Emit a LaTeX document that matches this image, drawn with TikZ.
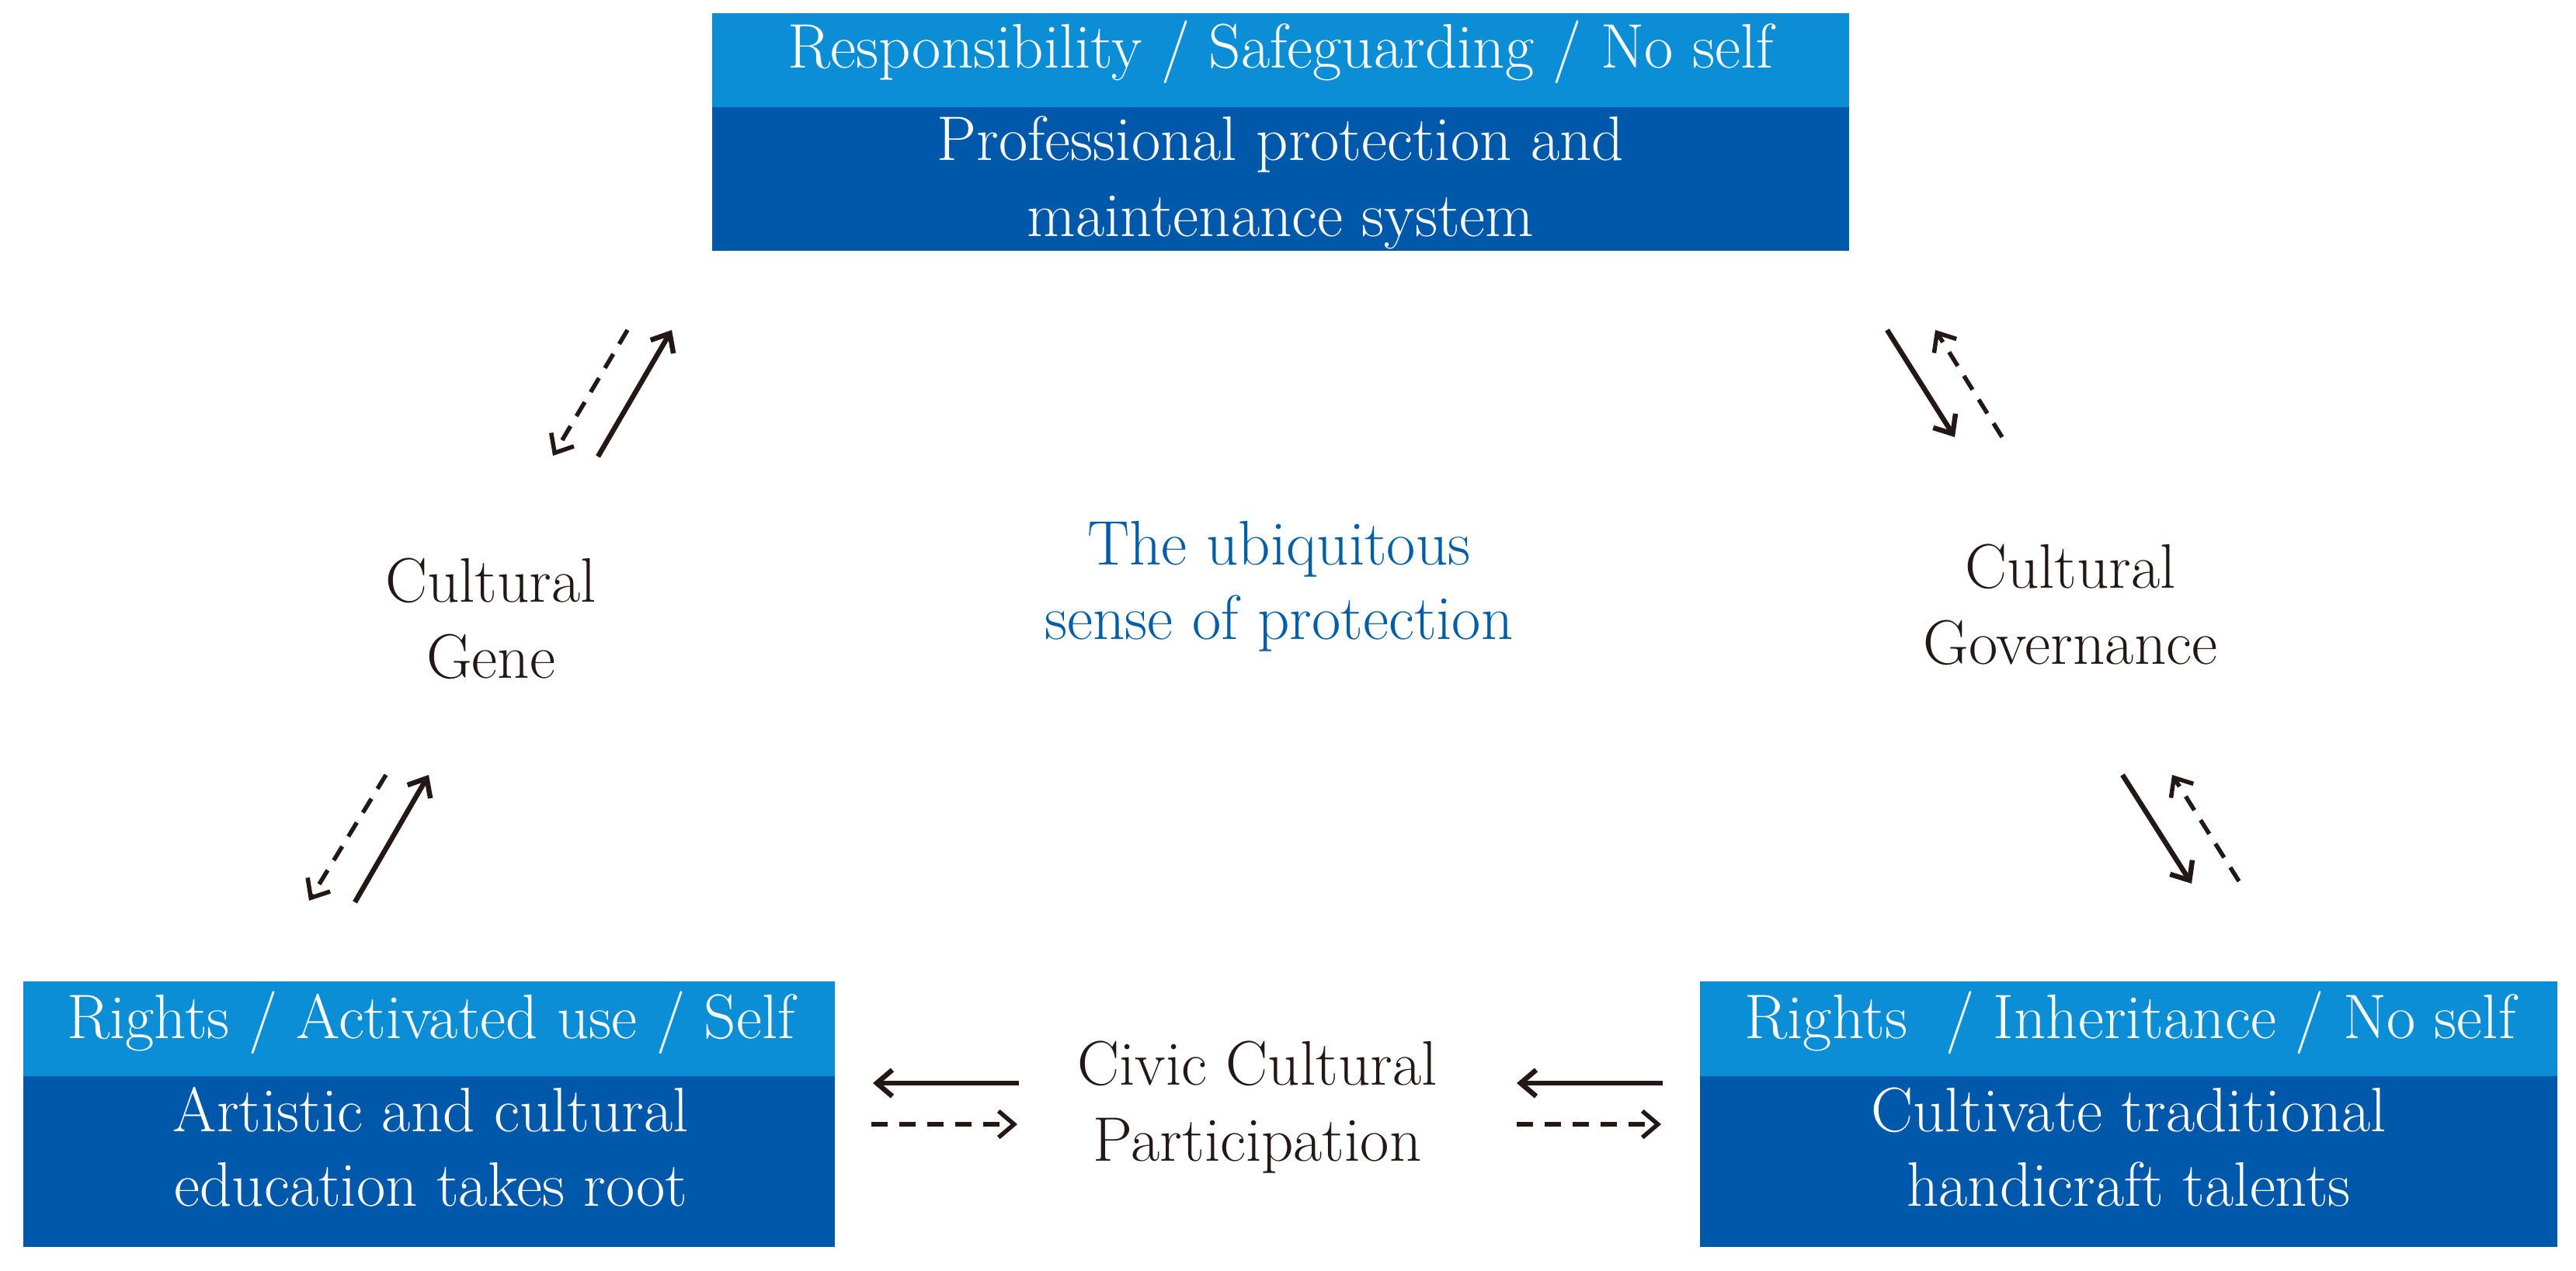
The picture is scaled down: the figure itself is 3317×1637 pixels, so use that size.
\documentclass[tikz,border=0pt]{standalone}
\usetikzlibrary{arrows.meta}
\definecolor{lightblue}{RGB}{12,142,214}
\definecolor{darkblue}{RGB}{0,88,170}
\definecolor{midblue}{RGB}{0,94,166}
\definecolor{ink}{RGB}{35,24,21}
\begin{document}
\begin{tikzpicture}[x=1pt,y=-1pt,
  band/.style={draw=none, inner sep=0pt, outer sep=0pt},
  lightband/.style={band, fill=lightblue},
  darkband/.style={band, fill=darkblue},
  txt/.style={inner sep=0pt, outer sep=0pt, anchor=base, font=\fontsize{81}{98}\selectfont},
  boxtext/.style={txt, text=white},
  plaintext/.style={txt, text=ink},
  bluetext/.style={txt, text=midblue},
  tipstyle/.style={-{Straight Barb[length=20pt,width=34pt]}},
  solidarrow/.style={draw=ink, line width=6.5pt, tipstyle},
  dasharrow/.style={draw=ink, line width=5.5pt, dash pattern=on 21pt off 15pt, tipstyle},
]
\useasboundingbox (0,0) rectangle (3317,1637);
\fill[white] (0,0) rectangle (3317,1637);

% top box
\node[lightband, minimum width=1464pt, minimum height=121pt] (topL) at (1649,77.5) {};
\node[darkband, minimum width=1464pt, minimum height=185pt] (topD) at (1649,230.5) {};
\node[boxtext] (t1) at (1649,88) {Responsibility / Safeguarding / No self};
\node[boxtext] (t2) at (1649,207) {Professional protection and};
\node[boxtext] (t3) at (1649,305) {maintenance system};

% bottom-left box
\node[lightband, minimum width=1045pt, minimum height=122pt] (blL) at (552.5,1325) {};
\node[darkband, minimum width=1045pt, minimum height=220pt] (blD) at (552.5,1496) {};
\node[boxtext] (bl1) at (555,1337) {Rights / Activated use / Self};
\node[boxtext] (bl2) at (555,1457) {Artistic and cultural};
\node[boxtext] (bl3) at (555,1553) {education takes root};

% bottom-right box
\node[lightband, minimum width=1104pt, minimum height=122pt] (brL) at (2741,1325) {};
\node[darkband, minimum width=1104pt, minimum height=220pt] (brD) at (2741,1496) {};
\node[boxtext] (br1) at (2743,1337) {Rights\ \ / Inheritance / No self};
\node[boxtext] (br2) at (2741,1457) {Cultivate traditional};
\node[boxtext] (br3) at (2741,1553) {handicraft talents};

% free labels
\node[plaintext] (gene1) at (632,775) {Cultural};
\node[plaintext] (gene2) at (632,873) {Gene};
\node[bluetext] (ub1) at (1647,727) {The ubiquitous};
\node[bluetext] (ub2) at (1647,823) {sense of protection};
\node[plaintext] (gov1) at (2666,757) {Cultural};
\node[plaintext] (gov2) at (2666,855) {Governance};
\node[plaintext] (civ1) at (1619,1397) {Civic Cultural};
\node[plaintext] (civ2) at (1619,1495) {Participation};

% arrow end points
\coordinate (tlDa) at (808,425);  \coordinate (tlDb) at (712,587);
\coordinate (tlSa) at (770,588);  \coordinate (tlSb) at (865,425);
\coordinate (blDa) at (497,998);  \coordinate (blDb) at (398,1160);
\coordinate (blSa) at (457,1162); \coordinate (blSb) at (552,998);
\coordinate (trSa) at (2430,425); \coordinate (trSb) at (2517,563);
\coordinate (trDa) at (2578,563); \coordinate (trDb) at (2492,425);
\coordinate (brSa) at (2733,998); \coordinate (brSb) at (2822,1138);
\coordinate (brDa) at (2883,1135);\coordinate (brDb) at (2797,998);
\coordinate (hlSa) at (1312,1395); \coordinate (hlSb) at (1124,1395);
\coordinate (hlDa) at (1122,1448); \coordinate (hlDb) at (1310,1448);
\coordinate (hrSa) at (2141,1395); \coordinate (hrSb) at (1953,1395);
\coordinate (hrDa) at (1953,1448); \coordinate (hrDb) at (2139,1448);

\draw[dasharrow] (tlDa) -- (tlDb);
\draw[solidarrow] (tlSa) -- (tlSb);
\draw[dasharrow] (blDa) -- (blDb);
\draw[solidarrow] (blSa) -- (blSb);
\draw[solidarrow] (trSa) -- (trSb);
\draw[dasharrow] (trDa) -- (trDb);
\draw[solidarrow] (brSa) -- (brSb);
\draw[dasharrow] (brDa) -- (brDb);
\draw[solidarrow] (hlSa) -- (hlSb);
\draw[dasharrow] (hlDa) -- (hlDb);
\draw[solidarrow] (hrSa) -- (hrSb);
\draw[dasharrow] (hrDa) -- (hrDb);
\end{tikzpicture}
\end{document}
